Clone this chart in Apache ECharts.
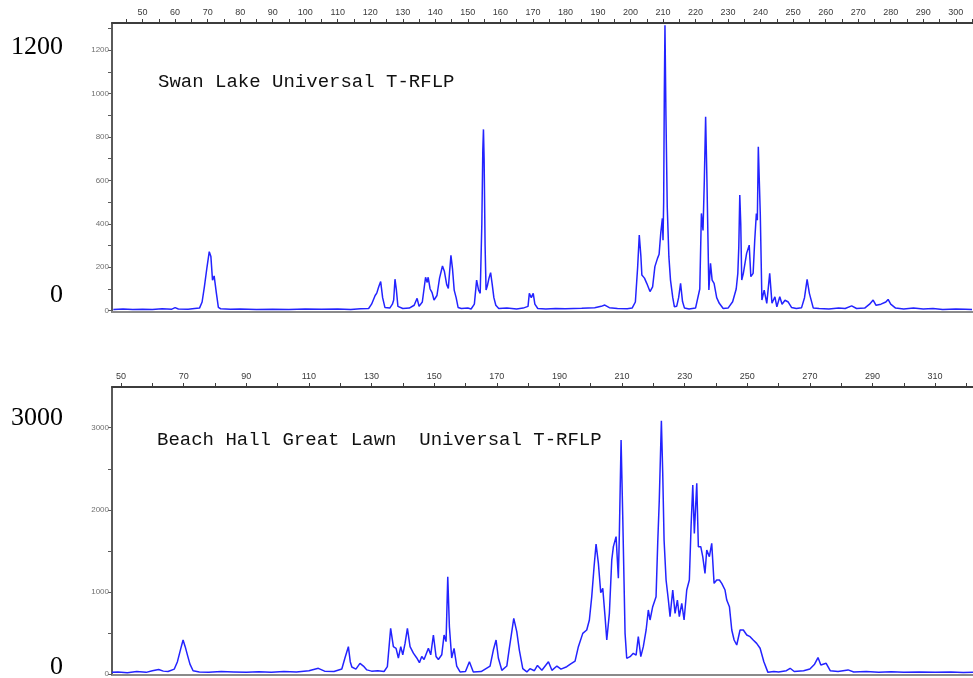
<!DOCTYPE html>
<html>
<head>
<meta charset="utf-8">
<title>Universal T-RFLP profiles</title>
<script src="https://cdn.jsdelivr.net/npm/echarts@6/dist/echarts.min.js"></script>
<style>
  html, body { margin: 0; padding: 0; background: #fff; }
  #chart { width: 973px; height: 678px; }
</style>
</head>
<body>
<div id="chart"></div>
<script>
// Fragment size (bp) vs. fluorescence signal, Swan Lake sample
const swanTrace = [
  [41,6],[44,8],[47,5],[50,7],[53,6],[56,9],[59,7],[60,14],[61,8],[64,7],[66,10],[67.5,12],
  [68.3,40],[69,110],[69.8,200],[70.5,272],[71,250],[71.5,140],[72,160],[72.7,80],[73.3,15],[74,9],
  [77,7],[80,8],[85,6],[90,7],[95,6],[100,8],[105,7],[110,8],[114,6],[117,9],[119.5,10],
  [120.4,30],[121.5,70],[122,81],[122.6,110],[123.2,134],[123.8,60],[124.5,15],[126,12],[126.8,30],
  [127.2,49],[127.6,145],[128,100],[128.5,20],[130,10],[132,12],[133.5,25],[134.4,57],[135,20],
  [136,40],[137,154],[137.5,130],[137.8,154],[138.4,100],[139,83],[139.6,49],[140.5,70],[141.3,150],
  [142.2,206],[142.8,180],[143.5,120],[144,103],[144.4,180],[144.8,255],[145.3,190],[145.8,95],
  [146.4,60],[147,15],[148,10],[150,12],[151,8],[152,30],[152.7,141],[153.3,95],[153.8,80],
  [154.3,400],[154.6,740],[154.8,835],[155,700],[155.3,300],[155.6,95],[156,115],[156.5,150],
  [157,175],[157.5,120],[158,60],[158.6,25],[159.5,10],[162,12],[165,8],[167,12],[168.5,20],
  [168.9,80],[169.5,60],[170.1,80],[170.6,30],[171.5,10],[174,8],[177,10],[180,9],[185,11],
  [189,14],[191,20],[192.1,26],[193.5,14],[196,10],[199,9],[200.5,12],[201.5,40],[202.2,200],
  [202.7,348],[203.2,250],[203.5,164],[204.3,150],[205,126],[206,88],[206.8,110],[207.5,203],
  [208.3,241],[208.8,260],[209.3,356],[209.8,425],[210,325],[210.2,500],[210.4,1000],[210.6,1315],
  [210.9,900],[211.3,479],[211.8,250],[212.3,141],[213,60],[213.5,18],[214.2,20],[214.8,60],
  [215.4,126],[216,42],[216.6,12],[218,8],[220,12],[221.3,100],[221.8,448],[222.3,370],[222.7,600],
  [223.1,893],[223.5,602],[224.1,95],[224.6,218],[225.1,141],[225.7,126],[226.5,60],[227.3,34],
  [228.5,10],[230,12],[231.4,41],[232.5,100],[233,172],[233.3,295],[233.6,533],[233.9,400],
  [234.2,141],[234.7,172],[235.7,264],[236.5,302],[237,157],[237.7,172],[238.2,325],[238.7,448],
  [239,417],[239.3,755],[239.6,600],[239.9,448],[240.4,49],[241.1,95],[241.9,34],[242.8,172],
  [243.5,34],[244.4,64],[245,18],[245.9,64],[246.6,30],[247.5,48],[248.5,40],[249.5,15],[251,10],
  [252.6,14],[253.5,60],[254.3,144],[255,80],[256.2,12],[258,10],[261,8],[264,12],[266,10],
  [268,22],[269.5,10],[272,12],[273.5,30],[274.6,49],[275.5,25],[277,30],[278.5,40],[279.2,52],
  [280,30],[281.5,12],[284,8],[287,12],[290,8],[293,10],[296,6],[300,8],[303,7],[305,6]
];

// Fragment size (bp) vs. fluorescence signal, Beach Hall Great Lawn sample
const beachTrace = [
  [47.1,20],[49,25],[52,15],[55,30],[58,20],[60,40],[62,55],[63.5,35],[65,30],[67,60],[68,150],
  [69,300],[69.8,414],[70.5,330],[71.2,230],[72,120],[73,40],[75,25],[78,20],[82,30],[86,25],
  [90,20],[94,28],[98,22],[102,30],[106,25],[110,40],[113,69],[115,35],[118,30],[120.5,60],
  [121.5,195],[122.6,333],[123.2,150],[123.7,85],[125,60],[126.3,130],[127.4,97],[128.5,50],
  [130,35],[132,40],[134,30],[135.05,90],[136.1,556],[136.97,333],[137.83,313],[138.57,195],
  [139.33,333],[139.97,234],[140.7,373],[141.45,556],[142.3,333],[143.36,254],[144.44,195],
  [145.29,138],[146.03,213],[146.77,176],[148.15,313],[148.9,234],[149.75,475],[150.6,213],
  [151.34,176],[152.42,234],[153.16,475],[153.8,394],[154.34,1185],[154.86,577],[155.6,195],
  [156.35,313],[157.2,97],[158.27,25],[160,30],[161.25,150],[162.5,25],[165,30],[167.85,97],
  [168.9,292],[169.77,414],[170.5,195],[171.6,45],[173.2,97],[174,313],[174.46,292],[175.42,678],
  [176.38,516],[177.2,292],[178.3,65],[179.6,25],[180.6,65],[182,40],[183,105],[184.4,45],
  [186.5,150],[187.6,45],[189.2,97],[190.5,60],[192.35,89],[193.5,120],[195,157],[196.06,333],
  [197.46,495],[198.73,536],[199.57,658],[200.33,942],[201.07,1307],[201.71,1583],[202.45,1348],
  [203.2,990],[203.85,1043],[204.58,698],[205.13,414],[205.96,738],[206.72,1389],[207.24,1551],
  [208.1,1673],[208.83,1166],[209.15,1713],[209.7,2850],[210.23,1916],[210.97,495],[211.5,191],
  [212.57,211],[213.6,252],[214.5,231],[215.2,455],[216,211],[216.8,333],[217.7,536],[218.4,780],
  [218.95,658],[219.8,820],[220.87,942],[221.4,1592],[221.9,2120],[222.57,3085],[223,2445],
  [223.43,1633],[224.07,1145],[224.8,901],[225.34,698],[226.2,1023],[226.94,738],[227.68,901],
  [228.3,698],[229.08,860],[229.82,658],[230.67,1023],[231.5,1145],[232.05,1795],[232.6,2302],
  [233.1,1713],[233.87,2323],[234.38,1551],[235.15,1551],[235.78,1429],[236.5,1226],[237.06,1511],
  [237.9,1429],[238.65,1592],[239.4,1104],[240.24,1145],[241.1,1145],[241.85,1104],[242.9,1023],
  [243.45,901],[244.3,820],[245.05,536],[245.8,414],[246.64,353],[247.7,536],[248.75,536],
  [249.84,475],[250.9,455],[251.9,414],[253,373],[254.1,313],[255.3,150],[256.6,20],[258.5,30],
  [260,25],[262.5,40],[263.7,70],[265,30],[268,40],[270,60],[271.5,120],[272.6,200],[273.5,110],
  [275.2,130],[276.5,40],[279,30],[282.2,50],[284,25],[288,30],[292,20],[296,28],[300,22],
  [305,25],[310,20],[315,24],[319,18],[322.1,22]
];

// Axis ticks and tick labels
const swanSizeTicks = [45,50,55,60,65,70,75,80,85,90,95,100,105,110,115,120,125,130,135,140,145,150,
  155,160,165,170,175,180,185,190,195,200,205,210,215,220,225,230,235,240,245,250,255,260,265,270,
  275,280,285,290,295,300,305];
const swanSizeLabels = [50,60,70,80,90,100,110,120,130,140,150,160,170,180,190,200,210,220,230,240,
  250,260,270,280,290,300];
const swanSignalTicks = [0,100,200,300,400,500,600,700,800,900,1000,1100,1200,1300];
const swanSignalLabels = [0,200,400,600,800,1000,1200];

const beachSizeTicks = [50,60,70,80,90,100,110,120,130,140,150,160,170,180,190,200,210,220,230,240,
  250,260,270,280,290,300,310,320];
const beachSizeLabels = [50,70,90,110,130,150,170,190,210,230,250,270,290,310];
const beachSignalTicks = [0,500,1000,1500,2000,2500,3000];
const beachSignalLabels = [0,1000,2000,3000];

const panelTitles = ['Swan Lake Universal T-RFLP', 'Beach Hall Great Lawn  Universal T-RFLP'];
const sideLabels = [['1200', '0'], ['3000', '0']];

const traceColor = '#2323ff';
const axisColor = '#5a5a5a';
const plainNumber = v => String(v);

function sizeAxis(gridIndex, min, max, ticks, labels) {
  return {
    type: 'value', gridIndex, position: 'top', min, max,
    axisLine: { show: true, onZero: false, lineStyle: { color: '#3c3c3c', width: 2 } },
    axisTick: { show: true, inside: false, length: 4, customValues: ticks,
      lineStyle: { color: '#3c3c3c', width: 1 } },
    axisLabel: { show: true, customValues: labels, margin: 6, fontSize: 9, formatter: plainNumber,
      fontFamily: 'Liberation Sans', color: '#3a3a3a' },
    splitLine: { show: false }
  };
}
function baseAxis(gridIndex, min, max) {
  return {
    type: 'value', gridIndex, position: 'bottom', min, max,
    axisLine: { show: true, onZero: false, lineStyle: { color: '#8a8a8a', width: 2 } },
    axisTick: { show: false }, axisLabel: { show: false }, splitLine: { show: false }
  };
}
function signalAxis(gridIndex, min, max, ticks, labels) {
  return {
    type: 'value', gridIndex, min, max,
    axisLine: { show: true, onZero: false, lineStyle: { color: axisColor, width: 2 } },
    axisTick: { show: true, length: 4, customValues: ticks, lineStyle: { color: axisColor } },
    axisLabel: { show: true, customValues: labels, margin: 3, fontSize: 8, formatter: plainNumber,
      fontFamily: 'Liberation Sans', color: '#707070' },
    splitLine: { show: false }
  };
}

const chart = echarts.init(document.getElementById('chart'), null, { renderer: 'canvas' });
chart.setOption({
  animation: false,
  backgroundColor: '#ffffff',
  grid: [
    { left: 112, top: 23, width: 861, height: 289 },
    { left: 112, top: 387, width: 861, height: 288 }
  ],
  xAxis: [
    sizeAxis(0, 40.6, 305.3, swanSizeTicks, swanSizeLabels),
    baseAxis(0, 40.6, 305.3),
    sizeAxis(1, 47.1, 322.1, beachSizeTicks, beachSizeLabels),
    baseAxis(1, 47.1, 322.1)
  ],
  yAxis: [
    signalAxis(0, -6, 1325, swanSignalTicks, swanSignalLabels),
    signalAxis(1, -12, 3496, beachSignalTicks, beachSignalLabels)
  ],
  series: [
    { type: 'line', xAxisIndex: 0, yAxisIndex: 0, data: swanTrace, showSymbol: false,
      lineStyle: { color: traceColor, width: 1.5 }, silent: true },
    { type: 'line', xAxisIndex: 2, yAxisIndex: 1, data: beachTrace, showSymbol: false,
      lineStyle: { color: traceColor, width: 1.5 }, silent: true }
  ],
  graphic: [
    { type: 'text', style: { x: 158, y: 82, text: panelTitles[0], fill: '#111',
      font: '19px "Liberation Mono"', textVerticalAlign: 'middle' } },
    { type: 'text', style: { x: 157, y: 440, text: panelTitles[1], fill: '#111',
      font: '19px "Liberation Mono"', textVerticalAlign: 'middle' } },
    { type: 'text', style: { x: 63, y: 47, text: sideLabels[0][0], fill: '#000',
      font: '26px "Liberation Serif"', textAlign: 'right', textVerticalAlign: 'middle' } },
    { type: 'text', style: { x: 63, y: 295, text: sideLabels[0][1], fill: '#000',
      font: '26px "Liberation Serif"', textAlign: 'right', textVerticalAlign: 'middle' } },
    { type: 'text', style: { x: 63, y: 418, text: sideLabels[1][0], fill: '#000',
      font: '26px "Liberation Serif"', textAlign: 'right', textVerticalAlign: 'middle' } },
    { type: 'text', style: { x: 63, y: 667, text: sideLabels[1][1], fill: '#000',
      font: '26px "Liberation Serif"', textAlign: 'right', textVerticalAlign: 'middle' } }
  ]
});
</script>
</body>
</html>
